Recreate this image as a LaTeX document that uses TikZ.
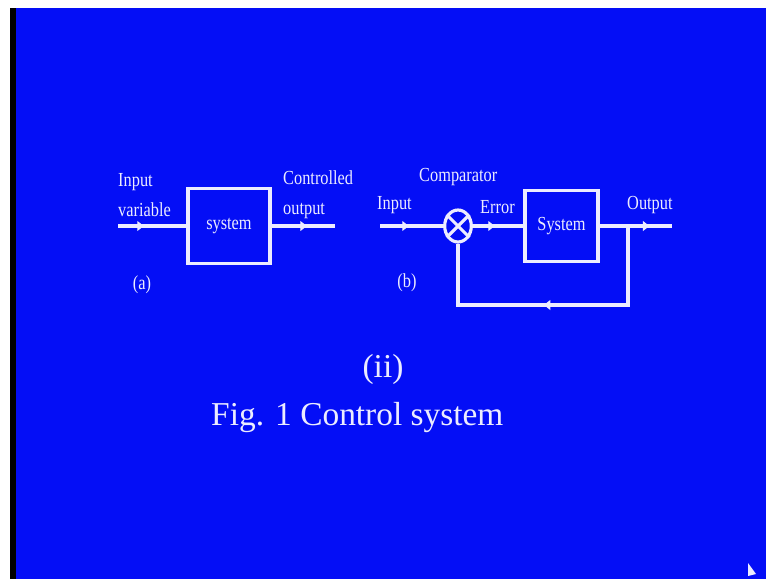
\documentclass[tikz,border=0pt]{standalone}
\usepackage{fontspec}
\setmainfont{Liberation Serif}
\newfontfamily\lblfont[FakeStretch=0.82]{Liberation Serif}
\usepackage{tikz}
\usetikzlibrary{arrows.meta, positioning, shapes.geometric, decorations.markings}
\definecolor{slideblue}{RGB}{4,14,246}
\definecolor{chalk}{RGB}{236,236,255}
\tikzset{
    wire/.style={draw=chalk, line width=2.7pt, line join=miter},
    midarrow/.style={postaction={decorate}, decoration={markings, mark=at position #1 with {\arrow[chalk, line width=0.8pt]{Latex[length=2.2mm, width=3.2mm]}}}},
    blockbox/.style={rectangle, draw=chalk, line width=2.7pt, align=center, inner sep=0pt, font=\lblfont\fontsize{17}{20}\selectfont, text=chalk},
    lbl/.style={text=chalk, align=left, inner sep=0pt, font=\lblfont\fontsize{17}{25.5}\selectfont}
}
\begin{document}
\begin{tikzpicture}[x=0.03cm, y=-0.03cm,
    comparator/.style={ellipse, draw=chalk, line width=2.7pt, minimum width=0.8cm, minimum height=0.96cm, inner sep=0pt},
    caption/.style={text=chalk, inner sep=0pt, font=\fontsize{28.5}{32}\selectfont}
]
    % slide background
    \useasboundingbox (0,0) rectangle (766,579);
    \fill[white] (0,0) rectangle (766,579);
    \fill[black] (10,8) rectangle (16,579);
    \fill[slideblue] (16,8) rectangle (766,579);

    % (a) open loop
    \node[blockbox, minimum width=2.46cm, minimum height=2.25cm] (sysa) at (229,226) {system};
    \coordinate (ina) at (118,226);
    \coordinate (outa) at (335,226);
    \node[lbl, anchor=west] (inlbla) at (118,195) {Input\\variable};
    \node[lbl, anchor=west] (outlbla) at (283,195) {Controlled\\output};
    \node[lbl] (taga) at (142,285) {(a)};

    \draw[wire, midarrow=0.39] (ina) -- (sysa.west);
    \draw[wire, midarrow=0.57] (sysa.east) -- (outa);

    % (b) closed loop
    \node[comparator] (cmp) at (458,226) {};
    \node[blockbox, minimum width=2.19cm, minimum height=2.13cm] (sysb) at (561.5,226) {System};
    \coordinate (inb) at (380,226);
    \coordinate (outb) at (672,226);
    \coordinate (branch) at (628,226);
    \coordinate (fbR) at (628,305);
    \coordinate (fbL) at (458,305);
    \node[lbl, anchor=west] (inlblb) at (377,205) {Input};
    \node[lbl, anchor=west] (cmplbl) at (419,177) {Comparator};
    \node[lbl, anchor=west] (errlbl) at (480,207) {Error};
    \node[lbl, anchor=west] (outlblb) at (627,205) {Output};
    \node[lbl] (tagb) at (407,283) {(b)};

    \draw[wire] (cmp.45) -- (cmp.225);
    \draw[wire] (cmp.135) -- (cmp.315);
    \draw[wire, midarrow=0.47] (inb) -- (cmp.west);
    \draw[wire, midarrow=0.45] (cmp.east) -- (sysb.west);
    \draw[wire, midarrow=0.70] (sysb.east) -- (outb);
    \draw[wire] (branch) -- (fbR) -- (fbL) -- (cmp.south);
    \path[midarrow=0.5] (fbR) -- (fbL);

    % caption
    \node[caption] (part) at (383,369) {(ii)};
    \node[caption, anchor=west] (figcap) at (211,418) {Fig. 1 Control system};

    % pointer
    \fill[chalk] (748,563) -- (748,576) -- (756,574) -- cycle;
\end{tikzpicture}
\end{document}
